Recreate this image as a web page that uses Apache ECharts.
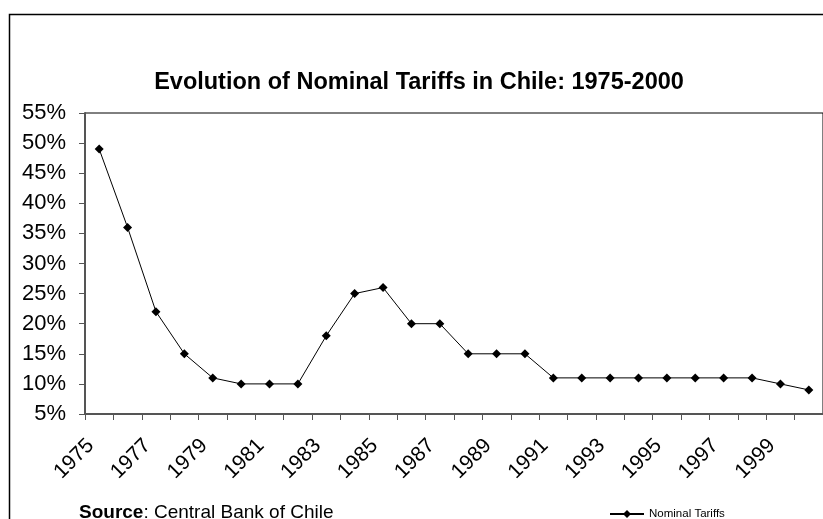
<!DOCTYPE html>
<html>
<head>
<meta charset="utf-8">
<script src="https://cdn.jsdelivr.net/npm/echarts@6/dist/echarts.min.js"></script>
<style>
html,body{margin:0;padding:0;background:#fff;}
#c{width:823px;height:519px;}
</style>
</head>
<body>
<div id="c"></div>
<script>
var years = ['1975','1976','1977','1978','1979','1980','1981','1982','1983','1984','1985','1986','1987','1988','1989','1990','1991','1992','1993','1994','1995','1996','1997','1998','1999','2000'];
var tariffs = [49,36,22,15,11,10,10,10,18,25,26,20,20,15,15,15,11,11,11,11,11,11,11,11,10,9];
var yTicks = [5,55,5]; // min, max, interval (percent)
var titleText = 'Evolution of Nominal Tariffs in Chile: 1975-2000';
var seriesName = 'Nominal Tariffs';

var chart = echarts.init(document.getElementById('c'), null, {renderer:'canvas'});
var FONT = 'Liberation Sans, Arial, sans-serif';
chart.setOption({
  animation:false,
  backgroundColor:'#fff',
  title:{
    text:titleText,
    left:414, textAlign:'center', top:66,
    textStyle:{fontFamily:FONT,fontWeight:'bold',fontSize:23.5,color:'#000'}
  },
  legend:{
    data:[{name:seriesName,itemStyle:{color:'#000'}}],
    left:604, top:503, itemWidth:34, itemHeight:10, itemGap:2,
    textStyle:{fontFamily:FONT,fontSize:11.5,color:'#000'}
  },
  grid:{left:85, top:113, right:-4, bottom:105, show:true, borderColor:'#000', borderWidth:1, containLabel:false},
  xAxis:{
    type:'category', data:years, boundaryGap:true,
    axisLine:{lineStyle:{color:'#555',width:2}},
    axisTick:{show:true,alignWithLabel:false,interval:0,length:6,lineStyle:{color:'#555',width:1}},
    axisLabel:{interval:1,rotate:45,margin:20,padding:[0,12,0,0],fontFamily:FONT,fontSize:21,color:'#000'}
  },
  yAxis:{
    type:'value', min:yTicks[0], max:yTicks[1], interval:yTicks[2],
    axisLine:{show:true,lineStyle:{color:'#555',width:2}},
    axisTick:{show:true,inside:false,length:6,lineStyle:{color:'#555',width:1}},
    splitLine:{show:false},
    axisLabel:{formatter:'{value}%',margin:19,fontFamily:FONT,fontSize:22,color:'#000'}
  },
  series:[{
    name:seriesName, type:'line', data:tariffs,
    symbol:'diamond', symbolSize:9, showAllSymbol:true,
    lineStyle:{color:'#000',width:1},
    itemStyle:{color:'#000'}
  }],
  graphic:[
    {type:'polyline', shape:{points:[[9.5,530],[9.5,14.5],[830,14.5]]}, style:{stroke:'#000',lineWidth:1.5,fill:null}},
    {type:'text', left:79, top:503, style:{
      text:'{b|Source}: Central Bank of Chile',
      rich:{b:{fontWeight:'bold',fontFamily:FONT,fontSize:19,fill:'#000'}},
      fontFamily:FONT, fontSize:19, fill:'#000'
    }}
  ]
});
</script>
</body>
</html>
